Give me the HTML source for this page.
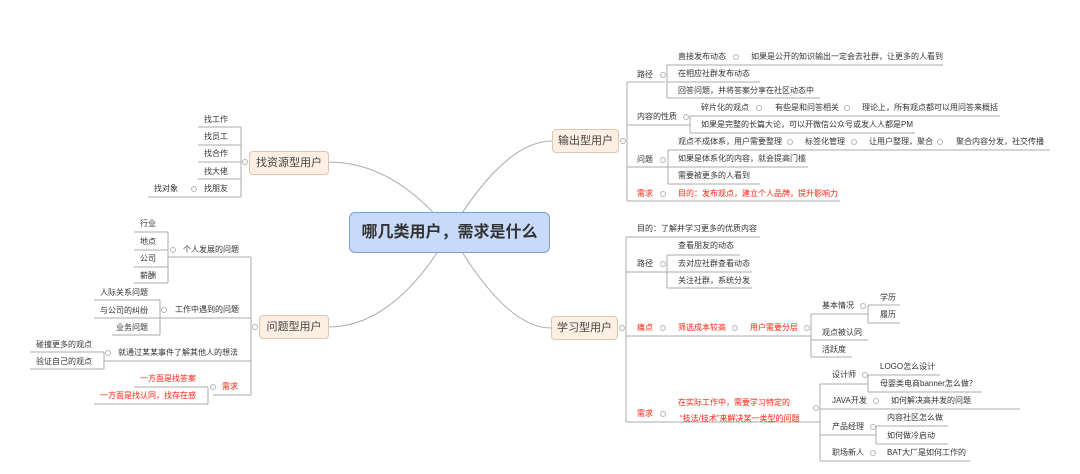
<!DOCTYPE html>
<html><head><meta charset="utf-8"><style>
body{margin:0;width:1080px;height:474px;background:#fff;position:relative;overflow:hidden;font-family:"Liberation Sans","Noto Sans CJK SC",sans-serif}
.t{position:absolute;font-size:8px;line-height:12px;white-space:nowrap;color:#333}
.r{color:#f21}
.b{position:absolute;background:#fdf0e3;border:1px solid #dcc6b2;border-radius:4px;font-size:11px;color:#444;text-align:center;box-sizing:border-box}
svg{position:absolute;left:0;top:0}
</style></head><body>
<svg width="1080" height="474" fill="none" stroke="#ababab" stroke-width="1">
<path d="M450,232 Q505,141 552,141"/><path d="M450,232 Q505,328 551,328"/>
<path d="M450,232 Q395,162 328,162"/><path d="M450,232 Q395,327 328,327"/>
<path d="M627,82V201M667,65V98M690,116V133M668,150V184"/>
<path d="M627,82H665M667,65H943M667,82H760M667,98H820"/>
<path d="M627,125H690M690,116H1000M690,133H915"/>
<path d="M627,167H668M668,150H1050M668,167H808M668,184H760"/>
<path d="M627,201H840"/>
<path d="M626,237V422M626,237H760M667,255V288M626,272H667M667,255H740M667,272H752M667,288H752"/>
<path d="M626,336H811M811,314V357M811,314H868M868,305V323M868,305H900M868,323H900M811,340H868M811,357H852"/>
<path d="M626,422H820M820,384V461M820,384H868M868,375V392M868,375H940M868,392H982M820,409H1020M820,435H876M876,426V444M876,426H948M876,444H948M820,461H970"/>
<path d="M241,127V197M198,127H241M198,145H241M198,162H241M198,179H241M148,197H241"/>
<path d="M251,257V395M168,257H251M168,232V283M134,232H168M134,250H168M134,267H168M134,283H168"/>
<path d="M160,318H251M160,300V335M94,300H160M94,318H160M112,335H160"/>
<path d="M104,361H251M104,352V369M30,352H104M30,369H104"/>
<path d="M213,395H251M208,387V404M134,387H208M94,404H208"/>
<g fill="#fff" stroke="#b5b5b5">
<circle cx="623" cy="141" r="2.5"/><circle cx="663" cy="75" r="2.5"/><circle cx="736" cy="57" r="2.5"/><circle cx="686" cy="117" r="2.5"/><circle cx="759" cy="108" r="2.5"/><circle cx="847" cy="108" r="2.5"/><circle cx="663" cy="160" r="2.5"/><circle cx="790" cy="142" r="2.5"/><circle cx="854" cy="142" r="2.5"/><circle cx="940" cy="142" r="2.5"/><circle cx="663" cy="194" r="2.5"/>
<circle cx="622" cy="328" r="2.5"/><circle cx="663" cy="264" r="2.5"/><circle cx="663" cy="328" r="2.5"/><circle cx="735" cy="328" r="2.5"/><circle cx="807" cy="328" r="2.5"/><circle cx="863" cy="306" r="2.5"/><circle cx="663" cy="414" r="2.5"/><circle cx="816" cy="408" r="2.5"/><circle cx="865" cy="375" r="2.5"/><circle cx="876" cy="401" r="2.5"/><circle cx="873" cy="427" r="2.5"/><circle cx="873" cy="453" r="2.5"/>
<circle cx="245" cy="162" r="2.5"/><circle cx="194" cy="189" r="2.5"/><circle cx="255" cy="327" r="2.5"/><circle cx="173" cy="250" r="2.5"/><circle cx="164" cy="310" r="2.5"/><circle cx="108" cy="353" r="2.5"/><circle cx="213" cy="387" r="2.5"/>
</g>
</svg>
<div style="position:absolute;left:349px;top:212px;width:201px;height:41px;box-sizing:border-box;background:#c9daf8;border:1px solid #7d9fd3;border-radius:6px;font-size:16px;font-weight:bold;color:#333;line-height:39px;text-align:center">哪几类用户，需求是什么</div>
<div class="b" style="left:552px;top:129px;width:67px;height:24px;line-height:22px">输出型用户</div>
<div class="b" style="left:551px;top:316px;width:67px;height:24px;line-height:22px">学习型用户</div>
<div class="b" style="left:249px;top:151px;width:80px;height:24px;line-height:22px">找资源型用户</div>
<div class="b" style="left:259px;top:315px;width:70px;height:24px;line-height:22px">问题型用户</div>

<div class="t" style="left:637px;top:69px">路径</div>
<div class="t" style="left:678px;top:51px">直接发布动态</div>
<div class="t" style="left:751px;top:51px">如果是公开的知识输出一定会去社群，让更多的人看到</div>
<div class="t" style="left:678px;top:68px">在相应社群发布动态</div>
<div class="t" style="left:678px;top:85px">回答问题，并将答案分享在社区动态中</div>
<div class="t" style="left:637px;top:111px">内容的性质</div>
<div class="t" style="left:701px;top:102px">碎片化的观点</div>
<div class="t" style="left:775px;top:102px">有些是和问答相关</div>
<div class="t" style="left:862px;top:102px">理论上，所有观点都可以用问答来概括</div>
<div class="t" style="left:701px;top:119px">如果是完整的长篇大论，可以开微信公众号或发人人都是PM</div>
<div class="t" style="left:637px;top:154px">问题</div>
<div class="t" style="left:678px;top:136px">观点不成体系，用户需要整理</div>
<div class="t" style="left:805px;top:136px">标签化管理</div>
<div class="t" style="left:869px;top:136px">让用户整理，聚合</div>
<div class="t" style="left:956px;top:136px">聚合内容分发，社交传播</div>
<div class="t" style="left:678px;top:153px">如果是体系化的内容，就会提高门槛</div>
<div class="t" style="left:678px;top:170px">需要被更多的人看到</div>
<div class="t r" style="left:637px;top:188px">需求</div>
<div class="t r" style="left:678px;top:188px">目的：发布观点，建立个人品牌，提升影响力</div>

<div class="t" style="left:637px;top:223px">目的：了解并学习更多的优质内容</div>
<div class="t" style="left:637px;top:258px">路径</div>
<div class="t" style="left:678px;top:240px">查看朋友的动态</div>
<div class="t" style="left:678px;top:258px">去对应社群查看动态</div>
<div class="t" style="left:678px;top:275px">关注社群，系统分发</div>
<div class="t r" style="left:637px;top:322px">痛点</div>
<div class="t r" style="left:678px;top:322px">筛选成本较高</div>
<div class="t r" style="left:750px;top:322px">用户需要分层</div>
<div class="t" style="left:822px;top:300px">基本情况</div>
<div class="t" style="left:880px;top:292px">学历</div>
<div class="t" style="left:880px;top:309px">履历</div>
<div class="t" style="left:822px;top:327px">观点被认同</div>
<div class="t" style="left:822px;top:344px">活跃度</div>
<div class="t r" style="left:637px;top:408px">需求</div>
<div class="t r" style="left:678px;top:397px">在实际工作中，需要学习特定的</div>
<div class="t r" style="left:680px;top:413px">“技法/技术”来解决某一类型的问题</div>
<div class="t" style="left:832px;top:369px">设计师</div>
<div class="t" style="left:880px;top:361px">LOGO怎么设计</div>
<div class="t" style="left:880px;top:378px">母婴类电商banner怎么做？</div>
<div class="t" style="left:832px;top:395px">JAVA开发</div>
<div class="t" style="left:891px;top:395px">如何解决高并发的问题</div>
<div class="t" style="left:832px;top:421px">产品经理</div>
<div class="t" style="left:887px;top:412px">内容社区怎么做</div>
<div class="t" style="left:887px;top:430px">如何做冷启动</div>
<div class="t" style="left:832px;top:447px">职场新人</div>
<div class="t" style="left:887px;top:447px">BAT大厂是如何工作的</div>

<div class="t" style="left:204px;top:114px">找工作</div>
<div class="t" style="left:204px;top:131px">找员工</div>
<div class="t" style="left:204px;top:148px">找合作</div>
<div class="t" style="left:204px;top:166px">找大佬</div>
<div class="t" style="left:204px;top:183px">找朋友</div>
<div class="t" style="left:154px;top:183px">找对象</div>
<div class="t" style="left:183px;top:244px">个人发展的问题</div>
<div class="t" style="left:140px;top:218px">行业</div>
<div class="t" style="left:140px;top:236px">地点</div>
<div class="t" style="left:140px;top:253px">公司</div>
<div class="t" style="left:140px;top:270px">薪酬</div>
<div class="t" style="left:175px;top:304px">工作中遇到的问题</div>
<div class="t" style="left:100px;top:287px">人际关系问题</div>
<div class="t" style="left:100px;top:305px">与公司的纠纷</div>
<div class="t" style="left:116px;top:322px">业务问题</div>
<div class="t" style="left:118px;top:347px">就通过某某事件了解其他人的想法</div>
<div class="t" style="left:36px;top:339px">碰撞更多的观点</div>
<div class="t" style="left:36px;top:356px">验证自己的观点</div>
<div class="t r" style="left:222px;top:381px">需求</div>
<div class="t r" style="left:140px;top:373px">一方面是找答案</div>
<div class="t r" style="left:100px;top:390px">一方面是找认同，找存在感</div>
</body></html>
